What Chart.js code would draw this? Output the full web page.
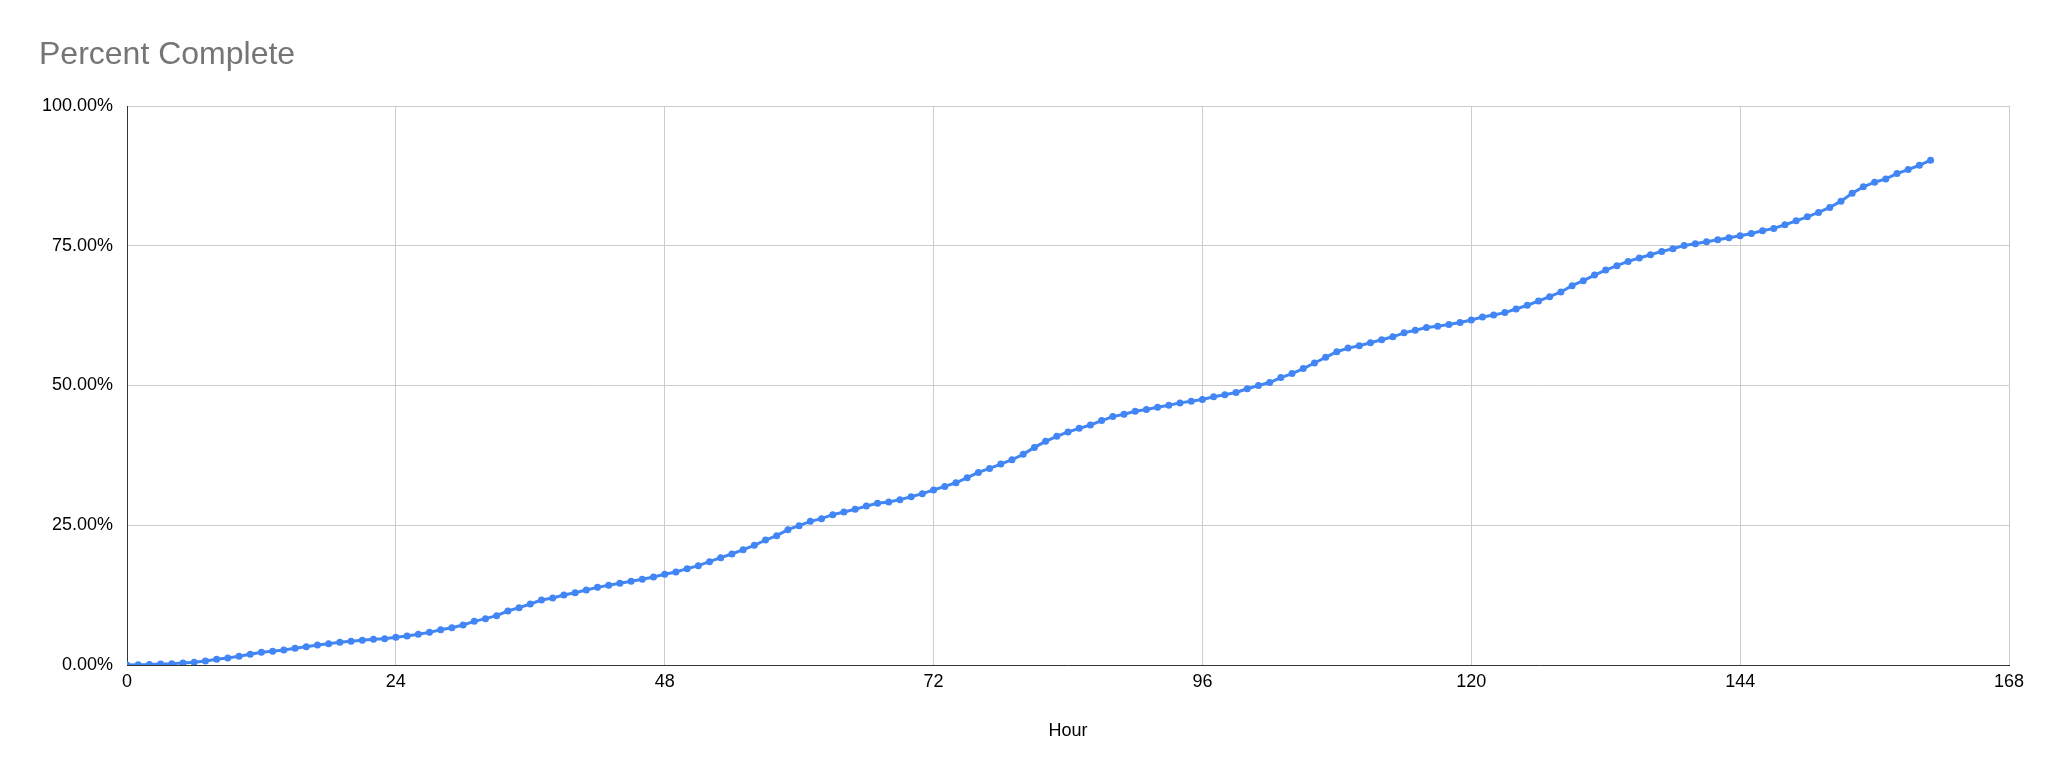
<!DOCTYPE html>
<html>
<head>
<meta charset="utf-8">
<title>Percent Complete</title>
<script src="https://cdn.jsdelivr.net/npm/chart.js@4.4.1/dist/chart.umd.min.js"></script>
<style>
    html, body { margin: 0; padding: 0; background: #fff; }
    canvas { display: block; }
</style>
</head>
<body>
<canvas id="chart" width="2048" height="781"></canvas>
<script>
const hours = [
    0, 1, 2, 3, 4, 5, 6, 7, 8, 9, 10, 11, 12, 13, 14, 15, 16, 17, 18, 19, 20, 21, 22, 23,
    24, 25, 26, 27, 28, 29, 30, 31, 32, 33, 34, 35, 36, 37, 38, 39, 40, 41, 42, 43, 44, 45, 46, 47,
    48, 49, 50, 51, 52, 53, 54, 55, 56, 57, 58, 59, 60, 61, 62, 63, 64, 65, 66, 67, 68, 69, 70, 71,
    72, 73, 74, 75, 76, 77, 78, 79, 80, 81, 82, 83, 84, 85, 86, 87, 88, 89, 90, 91, 92, 93, 94, 95,
    96, 97, 98, 99, 100, 101, 102, 103, 104, 105, 106, 107, 108, 109, 110, 111, 112, 113, 114, 115, 116, 117, 118, 119,
    120, 121, 122, 123, 124, 125, 126, 127, 128, 129, 130, 131, 132, 133, 134, 135, 136, 137, 138, 139, 140, 141, 142, 143,
    144, 145, 146, 147, 148, 149, 150, 151, 152, 153, 154, 155, 156, 157, 158, 159, 160, 161
];

// percent complete, one reading per hour
const percentComplete = [
    0, 0.06, 0.08, 0.18, 0.24, 0.36, 0.48, 0.72, 1.01, 1.25, 1.55, 1.91,
    2.27, 2.45, 2.68, 2.98, 3.28, 3.58, 3.82, 4.05, 4.23, 4.41, 4.59, 4.71,
    4.95, 5.19, 5.49, 5.84, 6.32, 6.68, 7.16, 7.81, 8.29, 8.83, 9.66, 10.26,
    10.91, 11.63, 11.99, 12.52, 12.94, 13.42, 13.89, 14.25, 14.61, 14.97, 15.33, 15.74,
    16.22, 16.64, 17.23, 17.77, 18.49, 19.20, 19.86, 20.63, 21.41, 22.36, 23.14, 24.21,
    24.93, 25.70, 26.18, 26.89, 27.37, 27.85, 28.44, 28.92, 29.16, 29.58, 30.11, 30.65,
    31.30, 31.95, 32.60, 33.50, 34.45, 35.17, 35.95, 36.72, 37.68, 38.93, 40.01, 40.91,
    41.69, 42.34, 42.94, 43.72, 44.44, 44.86, 45.39, 45.69, 46.11, 46.47, 46.89, 47.19,
    47.50, 47.98, 48.34, 48.76, 49.41, 50.00, 50.53, 51.42, 52.13, 53.02, 54.03, 55.04,
    56.04, 56.69, 57.11, 57.64, 58.18, 58.71, 59.42, 59.89, 60.37, 60.60, 60.90, 61.26,
    61.73, 62.26, 62.62, 63.04, 63.69, 64.35, 65.12, 65.89, 66.73, 67.86, 68.75, 69.76,
    70.65, 71.43, 72.20, 72.80, 73.39, 73.99, 74.46, 75.06, 75.36, 75.71, 76.07, 76.43,
    76.79, 77.20, 77.68, 78.10, 78.75, 79.46, 80.18, 80.95, 81.85, 82.98, 84.40, 85.54,
    86.37, 86.96, 87.92, 88.63, 89.40, 90.30
];

const xTicks = [0, 24, 48, 72, 96, 120, 144, 168];
const yTicks = [0, 25, 50, 75, 100];

const fontFamily = '"Liberation Sans", Arial, sans-serif';
const lineColor = '#4285F4';

const ctx = document.getElementById('chart').getContext('2d');
new Chart(ctx, {
    type: 'line',
    data: {
        datasets: [{
            label: 'Percent Complete',
            data: hours.map((h, i) => ({ x: h, y: percentComplete[i] })),
            borderColor: lineColor,
            backgroundColor: lineColor,
            borderWidth: 3,
            pointRadius: 3.5,
            pointBorderWidth: 0,
            pointBackgroundColor: lineColor,
            tension: 0,
            fill: false
        }]
    },
    options: {
        responsive: false,
        animation: false,
        layout: {
            padding: { left: 39, right: 39, top: 0, bottom: 0 }
        },
        plugins: {
            legend: { display: false },
            tooltip: { enabled: false },
            title: {
                display: true,
                text: 'Percent Complete',
                align: 'start',
                color: '#757575',
                font: { family: fontFamily, size: 32, weight: 'normal' },
                padding: { top: 36, bottom: 31.6 }
            }
        },
        scales: {
            x: {
                type: 'linear',
                min: 0,
                max: 168,
                afterBuildTicks: scale => { scale.ticks = xTicks.map(v => ({ value: v })); },
                afterFit: scale => { scale.height = 116; },
                grid: { color: '#cccccc', lineWidth: 1, drawTicks: false },
                border: { color: '#333333', width: 1 },
                ticks: {
                    color: '#000000',
                    padding: 6,
                    maxRotation: 0,
                    font: { family: fontFamily, size: 18 }
                },
                title: {
                    display: true,
                    text: 'Hour',
                    color: '#000000',
                    font: { family: fontFamily, size: 18 },
                    padding: { top: 39, bottom: 39 }
                }
            },
            y: {
                min: 0,
                max: 100,
                afterBuildTicks: scale => { scale.ticks = yTicks.map(v => ({ value: v })); },
                afterFit: scale => { scale.width = 88; },
                grid: { color: '#cccccc', lineWidth: 1, drawTicks: false },
                border: { color: '#333333', width: 1 },
                ticks: {
                    color: '#000000',
                    padding: 14,
                    font: { family: fontFamily, size: 18 },
                    callback: value => value.toFixed(2) + '%'
                }
            }
        }
    }
});
</script>
</body>
</html>
